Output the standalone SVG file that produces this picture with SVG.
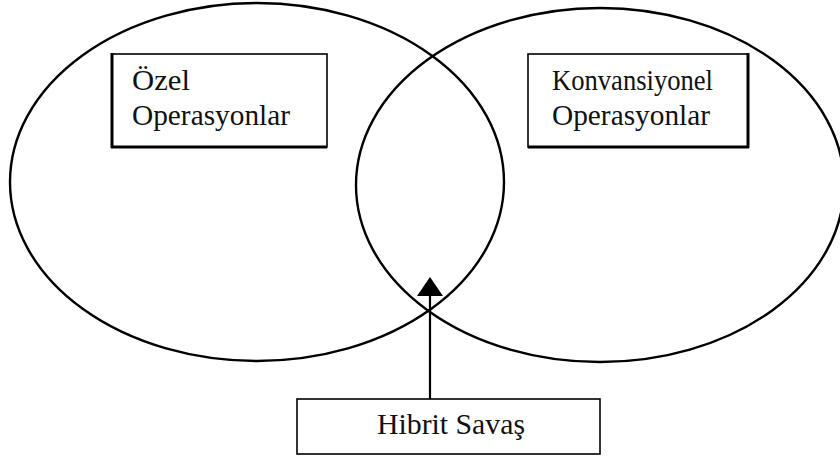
<svg xmlns="http://www.w3.org/2000/svg" width="840" height="460" viewBox="0 0 840 460">
  <defs>
    <style>
      .ell { fill: none; stroke: #000; stroke-width: 2.4; }
      .box { fill: #fff; stroke: #000; stroke-width: 1.6; }
      .edge { stroke: #000; stroke-width: 3; }
      .lbl { font-family: "Liberation Serif", "Times New Roman", serif; font-size: 28.5px; fill: #111; }
      .conn { stroke: #000; stroke-width: 2.2; fill: none; }
    </style>
  </defs>
  <rect width="840" height="460" fill="#fff"/>

  <g id="special-ops-circle">
    <ellipse class="ell" cx="257" cy="182" rx="247" ry="179"/>
  </g>
  <g id="conventional-ops-circle">
    <ellipse class="ell" cx="600" cy="185" rx="244" ry="177"/>
  </g>

  <g id="connectors">
    <line class="conn" x1="430" y1="399" x2="430" y2="296"/>
    <path d="M430,277 L443,296 L417,296 Z" fill="#000"/>
  </g>

  <g id="special-ops">
    <rect class="box" x="112" y="54" width="215" height="93"/>
    <line class="edge" x1="112" y1="53" x2="112" y2="148"/>
    <line class="edge" x1="111" y1="147" x2="327" y2="147"/>
    <text class="lbl" x="132" y="90" textLength="58" lengthAdjust="spacingAndGlyphs">Özel</text>
    <text class="lbl" x="132" y="125" textLength="158" lengthAdjust="spacingAndGlyphs">Operasyonlar</text>
  </g>

  <g id="conventional-ops">
    <rect class="box" x="528" y="54" width="220" height="93"/>
    <line class="edge" x1="748" y1="53" x2="748" y2="148"/>
    <line class="edge" x1="528" y1="147" x2="749" y2="147"/>
    <text class="lbl" x="552" y="90" textLength="161" lengthAdjust="spacingAndGlyphs">Konvansiyonel</text>
    <text class="lbl" x="552" y="125" textLength="158" lengthAdjust="spacingAndGlyphs">Operasyonlar</text>
  </g>

  <g id="hybrid-war">
    <rect class="box" x="297" y="399" width="303" height="55"/>
    <text class="lbl" x="377" y="434" textLength="148" lengthAdjust="spacingAndGlyphs">Hibrit Savaş</text>
  </g>
</svg>
